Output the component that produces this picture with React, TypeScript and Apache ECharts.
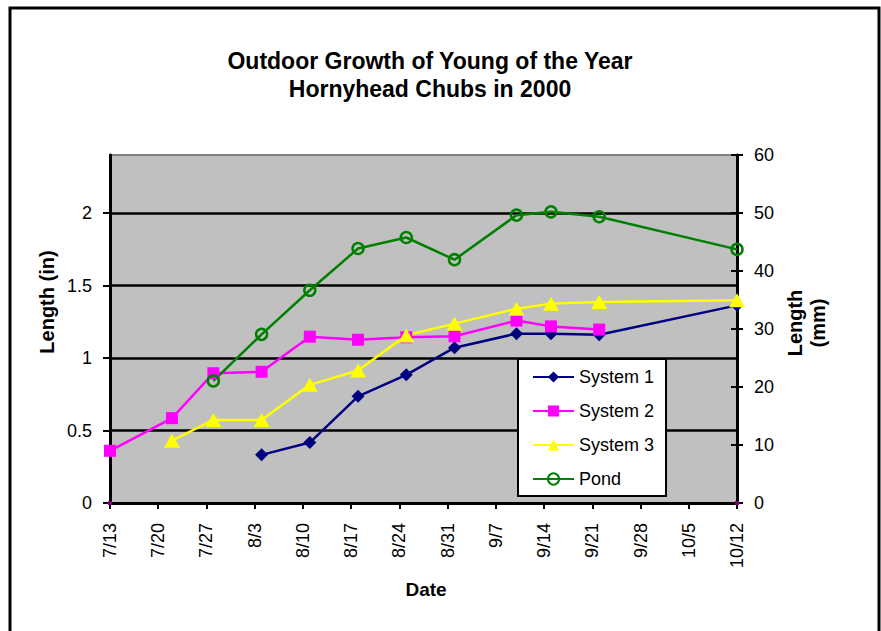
import React, { useEffect, useRef } from "react";
import * as echarts from "echarts";

// ---- Data ----
const xTickStart = "7/13";
const xTickEnd = "10/12";

const sys1Dates = ["8/4", "8/11", "8/18", "8/25", "9/1", "9/10", "9/15", "9/22", "10/12"];
const sys1Values = [0.332, 0.417, 0.736, 0.884, 1.071, 1.168, 1.168, 1.16, 1.363];

const sys2Dates = ["7/13", "7/22", "7/28", "8/4", "8/11", "8/18", "8/25", "9/1", "9/10", "9/15", "9/22"];
const sys2Values = [0.36, 0.585, 0.895, 0.905, 1.147, 1.126, 1.143, 1.15, 1.258, 1.218, 1.196];

const sys3Dates = ["7/22", "7/28", "8/4", "8/11", "8/18", "8/25", "9/1", "9/10", "9/15", "9/22", "10/12"];
const sys3Values = [0.43, 0.573, 0.573, 0.815, 0.914, 1.156, 1.237, 1.34, 1.375, 1.386, 1.398];

const pondDates = ["7/28", "8/4", "8/11", "8/18", "8/25", "9/1", "9/10", "9/15", "9/22", "10/12"];
const pondValues = [0.842, 1.163, 1.467, 1.755, 1.831, 1.678, 1.985, 2.008, 1.974, 1.749];

const mmDates = ["7/13", "10/12"];
const mmValues = [0, 0];

const leftTicks = [0, 0.5, 1, 1.5, 2];

const seriesNames = ["System 1", "System 2", "System 3", "Pond"];

// ---- Helpers ----
const BASE = Date.UTC(2000, 6, 13);
const DAY = 86400000;
function dayOf(md: string): number {
  const [m, d] = md.split("/").map(Number);
  return (Date.UTC(2000, m - 1, d) - BASE) / DAY;
}
function fmtDay(day: number): string {
  const dt = new Date(BASE + Math.round(day) * DAY);
  return `${dt.getUTCMonth() + 1}/${dt.getUTCDate()}`;
}
function pairs(dates: string[], values: number[]) {
  return dates.map((d, i) => [dayOf(d), values[i]]);
}

const FONT = "'Liberation Sans', Arial, Helvetica, sans-serif";

export default function App() {
  const ref = useRef<HTMLDivElement>(null);

  useEffect(() => {
    document.body.style.margin = "0";
    if (!ref.current) return;
    const chart = echarts.init(ref.current, undefined, { renderer: "svg" });

    const lineW = 2.5;

    const option: any = {
      animation: false,
      backgroundColor: "#ffffff",
      textStyle: { fontFamily: FONT },
      grid: {
        left: 110,
        right: 144,
        top: 155,
        bottom: 128,
        show: true,
        backgroundColor: "#C0C0C0",
        borderColor: "#808080",
        borderWidth: 2,
        containLabel: false,
      },
      xAxis: {
        type: "value",
        min: dayOf(xTickStart),
        max: dayOf(xTickEnd),
        interval: 7,
        axisLine: { show: true, onZero: false, lineStyle: { color: "#000", width: 3 } },
        axisTick: { show: true, length: 6, lineStyle: { color: "#000", width: 2 } },
        axisLabel: {
          rotate: 90,
          margin: 20,
          fontSize: 18,
          color: "#000",
          fontFamily: FONT,
          formatter: (v: number) => fmtDay(v),
        },
        splitLine: { show: false },
      },
      yAxis: [
        {
          type: "value",
          position: "left",
          min: 0,
          max: 2.4,
          interval: 0.5,
          axisLine: { show: true, lineStyle: { color: "#000", width: 3 } },
          axisTick: {
            show: true,
            length: 7,
            customValues: leftTicks,
            lineStyle: { color: "#000", width: 2 },
          },
          axisLabel: {
            fontSize: 18,
            color: "#000",
            margin: 18,
            fontFamily: FONT,
            customValues: leftTicks,
            formatter: (v: number) => String(v),
          },
          splitLine: {
            show: true,
            lineStyle: {
              color: ["#000", "#000", "#000", "#000", "#000", "#808080"],
              width: 2.5,
            },
          },
        },
        {
          type: "value",
          position: "right",
          min: 0,
          max: 60,
          interval: 10,
          axisLine: { show: true, lineStyle: { color: "#000", width: 3 } },
          axisTick: { show: true, length: 6, lineStyle: { color: "#000", width: 2 } },
          axisLabel: { fontSize: 18, color: "#000", margin: 17, fontFamily: FONT },
          splitLine: { show: false },
        },
        {
          type: "value",
          position: "right",
          min: 0,
          max: 60,
          interval: 10,
          axisLine: { show: false },
          axisTick: { show: true, inside: true, length: 6, lineStyle: { color: "#000", width: 2 } },
          axisLabel: { show: false },
          splitLine: { show: false },
        },
      ],
      legend: {
        data: seriesNames,
        orient: "vertical",
        left: 518,
        top: 359,
        itemWidth: 41,
        itemHeight: 14,
        itemGap: 14,
        padding: [8, 12, 7, 14],
        backgroundColor: "#ffffff",
        borderColor: "#000",
        borderWidth: 2,
        borderRadius: 0,
        textStyle: { fontSize: 18, color: "#000", lineHeight: 20, fontFamily: FONT },
      },
      series: [
        {
          name: seriesNames[0],
          type: "line",
          data: pairs(sys1Dates, sys1Values),
          symbol: "diamond",
          symbolSize: 13,
          itemStyle: { color: "#000080" },
          lineStyle: { color: "#000080", width: lineW },
        },
        {
          name: seriesNames[1],
          type: "line",
          data: pairs(sys2Dates, sys2Values),
          symbol: "rect",
          symbolSize: 12,
          itemStyle: { color: "#FF00FF" },
          lineStyle: { color: "#FF00FF", width: lineW },
        },
        {
          name: seriesNames[2],
          type: "line",
          data: pairs(sys3Dates, sys3Values),
          symbol: "triangle",
          symbolSize: [16, 14],
          itemStyle: { color: "#FFFF00" },
          lineStyle: { color: "#FFFF00", width: lineW },
        },
        {
          name: seriesNames[3],
          type: "line",
          data: pairs(pondDates, pondValues),
          symbol: "circle",
          symbolSize: 11,
          itemStyle: { color: "rgba(0,0,0,0)", borderColor: "#008000", borderWidth: 2.5 },
          lineStyle: { color: "#008000", width: lineW },
        },
        {
          name: "mm",
          type: "line",
          yAxisIndex: 1,
          data: pairs(mmDates, mmValues),
          symbol: "rect",
          symbolSize: 4,
          itemStyle: { color: "#800080" },
          lineStyle: { opacity: 0, width: 0 },
          z: 5,
        },
      ],
      graphic: [
        {
          type: "rect",
          shape: { x: 10, y: 8, width: 869, height: 640 },
          style: { fill: "none", stroke: "#000", lineWidth: 3 },
          silent: true,
        },
        {
          type: "text",
          x: 430,
          y: 61,
          style: {
            text: "Outdoor Growth of Young of the Year",
            font: `bold 23px ${FONT}`,
            fill: "#000",
            align: "center",
            verticalAlign: "middle",
          },
        },
        {
          type: "text",
          x: 430,
          y: 89,
          style: {
            text: "Hornyhead Chubs in 2000",
            font: `bold 23px ${FONT}`,
            fill: "#000",
            align: "center",
            verticalAlign: "middle",
          },
        },
        {
          type: "text",
          x: 47,
          y: 302,
          rotation: Math.PI / 2,
          style: {
            text: "Length (in)",
            font: `bold 20px ${FONT}`,
            fill: "#000",
            align: "center",
            verticalAlign: "middle",
          },
        },
        {
          type: "text",
          x: 806,
          y: 323,
          rotation: Math.PI / 2,
          style: {
            text: "Length\n(mm)",
            font: `bold 20px ${FONT}`,
            lineHeight: 23,
            fill: "#000",
            align: "center",
            verticalAlign: "middle",
          },
        },
        {
          type: "text",
          x: 426,
          y: 589,
          style: {
            text: "Date",
            font: `bold 19px ${FONT}`,
            fill: "#000",
            align: "center",
            verticalAlign: "middle",
          },
        },
      ],
    };

    chart.setOption(option);
    return () => chart.dispose();
  }, []);

  return <div ref={ref} style={{ width: 881, height: 631 }} />;
}
